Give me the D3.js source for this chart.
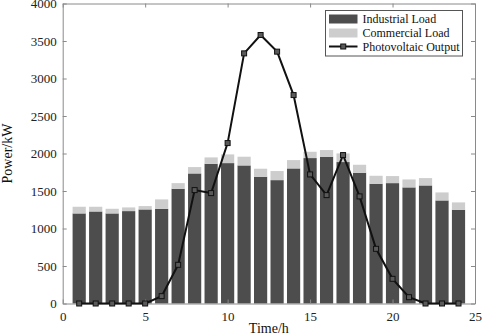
<!DOCTYPE html>
<html>
<head>
<meta charset="utf-8">
<script src="https://cdnjs.cloudflare.com/ajax/libs/d3/7.8.5/d3.min.js"></script>
<style>
  body { margin: 0; background: #fff; }
  text { font-family: "Liberation Serif", "Times New Roman", serif; fill: #111; }
</style>
</head>
<body>
<div id="chart-area"></div>
<script>
// hourly data
const hours = d3.range(1, 25);
const industrial = [1201, 1227, 1201, 1232, 1254, 1263, 1530, 1734, 1863, 1872, 1841, 1690,
  1645, 1801, 1939, 1957, 1886, 1743, 1597, 1605, 1548, 1574, 1374, 1250];
const commercial = [89, 63, 62, 49, 45, 125, 75, 85, 85, 116, 116, 107,
  121, 111, 84, 89, 115, 107, 106, 94, 106, 98, 107, 98];
const pvOutput = [0, 0, 0, 0, 0, 98, 516, 1512, 1472, 2139, 3335, 3580,
  3358, 2779, 1721, 1445, 1979, 1428, 729, 329, 84, 0, 0, 0];
const xTicks = [0, 5, 10, 15, 20, 25];
const yTicks = [0, 500, 1000, 1500, 2000, 2500, 3000, 3500, 4000];
const legendLabels = ['Industrial Load', 'Commercial Load', 'Photovoltaic Output'];

const margins = { top: 3.5, right: 9, bottom: 30.5, left: 62.7 };
const width = 484 - margins.left - margins.right;
const height = 334 - margins.top - margins.bottom;

const svg = d3.select('#chart-area')
  .append('svg')
  .attr('width', 484)
  .attr('height', 334);

const g = svg.append('g')
  .attr('transform', 'translate(' + margins.left + ', ' + margins.top + ')');

const x = d3.scaleLinear().domain([0, 25]).range([0, width]);
const y = d3.scaleLinear().domain([0, 4000]).range([height, 0]);

const barW = x(0.8) - x(0);

// stacked bars
g.selectAll('rect.ind')
  .data(hours)
  .enter()
  .append('rect')
  .attr('class', 'ind')
  .attr('x', (h) => x(h) - barW / 2)
  .attr('y', (h, i) => y(industrial[i]))
  .attr('width', barW)
  .attr('height', (h, i) => height - y(industrial[i]))
  .attr('fill', '#4d4d4d');

g.selectAll('rect.com')
  .data(hours)
  .enter()
  .append('rect')
  .attr('class', 'com')
  .attr('x', (h) => x(h) - barW / 2)
  .attr('y', (h, i) => y(industrial[i] + commercial[i]))
  .attr('width', barW)
  .attr('height', (h, i) => y(industrial[i]) - y(industrial[i] + commercial[i]))
  .attr('fill', '#cdcdcd');

// axes (box with inward ticks)
const axisColor = '#8a8a8a';
const tickLen = 4;
const fmt = d3.format('d');

const xAxis = g.append('g')
  .attr('transform', 'translate(0, ' + height + ')')
  .call(d3.axisBottom(x).tickValues(xTicks).tickFormat(fmt).tickSizeInner(-tickLen).tickSizeOuter(0).tickPadding(8));
const xTop = g.append('g')
  .call(d3.axisTop(x).tickValues(xTicks).tickSizeInner(-tickLen).tickSizeOuter(0).tickFormat(''));
const yAxis = g.append('g')
  .call(d3.axisLeft(y).tickValues(yTicks).tickFormat(fmt).tickSizeInner(-tickLen).tickSizeOuter(0).tickPadding(6));
const yRight = g.append('g')
  .attr('transform', 'translate(' + width + ', 0)')
  .call(d3.axisRight(y).tickValues(yTicks).tickSizeInner(-tickLen).tickSizeOuter(0).tickFormat(''));

[xAxis, xTop, yAxis, yRight].forEach((a) => {
  a.attr('font-family', null).attr('font-size', null);
  a.select('.domain').attr('stroke', axisColor);
  a.selectAll('.tick line').attr('stroke', axisColor);
  a.selectAll('.tick text')
    .style('font-family', '"Liberation Serif", serif')
    .style('font-size', '13px')
    .style('fill', '#222');
});

// PV line
const line = d3.line()
  .x((h) => x(h))
  .y((h, i) => y(pvOutput[i]));

g.append('path')
  .datum(hours)
  .attr('d', line)
  .attr('fill', 'none')
  .attr('stroke', '#111')
  .attr('stroke-width', 2);

g.selectAll('rect.pv')
  .data(hours)
  .enter()
  .append('rect')
  .attr('class', 'pv')
  .attr('x', (h) => x(h) - 2.5)
  .attr('y', (h, i) => y(pvOutput[i]) - 2.5)
  .attr('width', 5)
  .attr('height', 5)
  .attr('fill', '#5a5a5a')
  .attr('stroke', '#111')
  .attr('stroke-width', 1);

// axis labels
svg.append('text')
  .attr('x', margins.left + width / 2)
  .attr('y', 333)
  .style('font-size', '14px')
  .attr('text-anchor', 'middle')
  .text('Time/h');

svg.append('text')
  .attr('transform', 'translate(12, ' + (margins.top + height / 2) + ') rotate(-90)')
  .style('font-size', '14px')
  .attr('text-anchor', 'middle')
  .text('Power/kW');

// legend
const legend = svg.append('g').attr('transform', 'translate(325.5, 10.5)');
legend.append('rect')
  .attr('width', 137)
  .attr('height', 45.5)
  .attr('fill', '#fff')
  .attr('stroke', '#555')
  .attr('stroke-width', 1);

const rowY = [8.5, 22.5, 36];
legend.append('rect').attr('x', 3.5).attr('y', rowY[0] - 4.5).attr('width', 28.5).attr('height', 9).attr('fill', '#4d4d4d');
legend.append('rect').attr('x', 3.5).attr('y', rowY[1] - 4.5).attr('width', 28.5).attr('height', 9).attr('fill', '#cdcdcd');
legend.append('line').attr('x1', 3.5).attr('x2', 32).attr('y1', rowY[2]).attr('y2', rowY[2])
  .attr('stroke', '#111').attr('stroke-width', 2);
legend.append('rect').attr('x', 15.25).attr('y', rowY[2] - 2.5).attr('width', 5).attr('height', 5)
  .attr('fill', '#5a5a5a').attr('stroke', '#111');

legend.selectAll('text.lbl')
  .data(legendLabels)
  .enter()
  .append('text')
  .attr('class', 'lbl')
  .attr('x', 37)
  .attr('y', (d, i) => rowY[i] + 4)
  .style('font-size', '12px')
  .text((d) => d);
</script>
</body>
</html>
